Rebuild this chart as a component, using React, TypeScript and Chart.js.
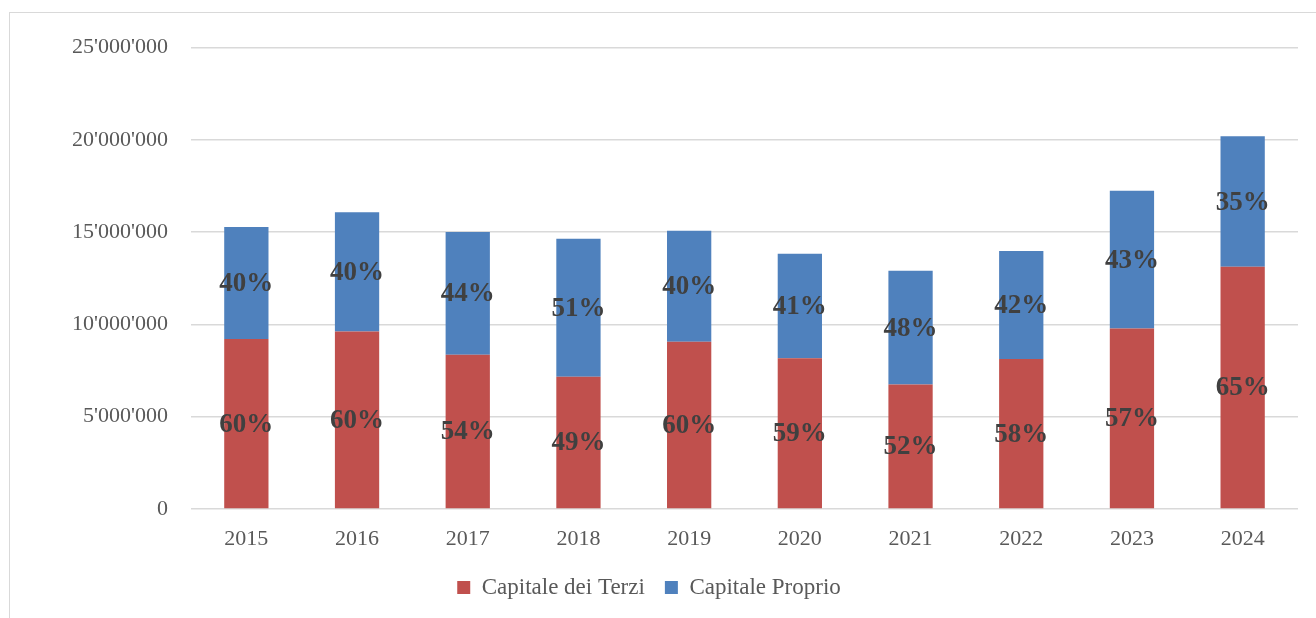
import React, { useEffect, useRef } from "react";
import { Chart, registerables } from "chart.js";

Chart.register(...registerables);

const years = ["2015", "2016", "2017", "2018", "2019", "2020", "2021", "2022", "2023", "2024"];
const capitaleTerzi = [9210000, 9620000, 8360000, 7170000, 9060000, 8160000, 6750000, 8130000, 9780000, 13120000];
const capitaleProprio = [6060000, 6460000, 6640000, 7470000, 6010000, 5670000, 6160000, 5840000, 7460000, 7070000];
const terziLabels = ["60%", "60%", "54%", "49%", "60%", "59%", "52%", "58%", "57%", "65%"];
const proprioLabels = ["40%", "40%", "44%", "51%", "40%", "41%", "48%", "42%", "43%", "35%"];

const FONT = "'Liberation Serif', 'Times New Roman', serif";

const segmentLabels = {
  id: "segmentLabels",
  afterDatasetsDraw(chart: any) {
    const ctx = chart.ctx;
    ctx.save();
    ctx.font = `bold 27px ${FONT}`;
    ctx.fillStyle = "#404040";
    ctx.textAlign = "center";
    ctx.textBaseline = "middle";
    const sets = [terziLabels, proprioLabels];
    chart.data.datasets.forEach((_: any, di: number) => {
      const meta = chart.getDatasetMeta(di);
      meta.data.forEach((bar: any, i: number) => {
        const cy = (bar.y + bar.base) / 2;
        ctx.fillText(sets[di][i], bar.x, cy + 1);
      });
    });
    ctx.restore();
  },
};

export default function App() {
  const ref = useRef<HTMLCanvasElement>(null);
  useEffect(() => {
    if (!ref.current) return;
    const chart = new Chart(ref.current, {
      type: "bar",
      data: {
        labels: years,
        datasets: [
          { label: "Capitale dei Terzi", data: capitaleTerzi, backgroundColor: "#C0504D", borderWidth: 0 },
          { label: "Capitale Proprio", data: capitaleProprio, backgroundColor: "#4F81BD", borderWidth: 0 },
        ],
      },
      options: {
        animation: false,
        responsive: false,
        maintainAspectRatio: false,
        layout: { padding: { top: 47.5, right: 18, left: 0, bottom: 9 } },
        datasets: { bar: { barPercentage: 0.4, categoryPercentage: 1 } },
        plugins: {
          tooltip: { enabled: false },
          legend: {
            position: "bottom",
            labels: {
              font: { family: FONT, size: 23 },
              color: "#595959",
              boxWidth: 13,
              boxHeight: 13,
              padding: 20,
            },
          },
        },
        scales: {
          x: {
            stacked: true,
            grid: { display: false, drawTicks: false },
            border: { display: false },
            ticks: { font: { family: FONT, size: 22 }, color: "#595959", padding: 17 },
            afterFit: (s: any) => { s.height = 47; },
          },
          y: {
            stacked: true,
            min: 0,
            max: 25000000,
            grid: { color: "#d9d9d9", lineWidth: 1.5, drawTicks: false },
            border: { display: false },
            ticks: {
              stepSize: 5000000,
              font: { family: FONT, size: 22 },
              color: "#595959",
              padding: 23,
              callback: (v: any) => String(v).replace(/\B(?=(\d{3})+(?!\d))/g, "'"),
            },
            afterFit: (s: any) => { s.width = 191; },
          },
        },
      },
      plugins: [segmentLabels],
    });
    return () => chart.destroy();
  }, []);
  return (
    <div style={{ position: "absolute", left: 0, top: 0, width: 1316, height: 618, overflow: "hidden", background: "#fff" }}>
      <div style={{ position: "absolute", left: 9, top: 12, width: 1400, height: 700, border: "1.5px solid #d9d9d9" }} />
      <canvas ref={ref} width={1316} height={618} style={{ position: "absolute", left: 0, top: 0 }} />
    </div>
  );
}
